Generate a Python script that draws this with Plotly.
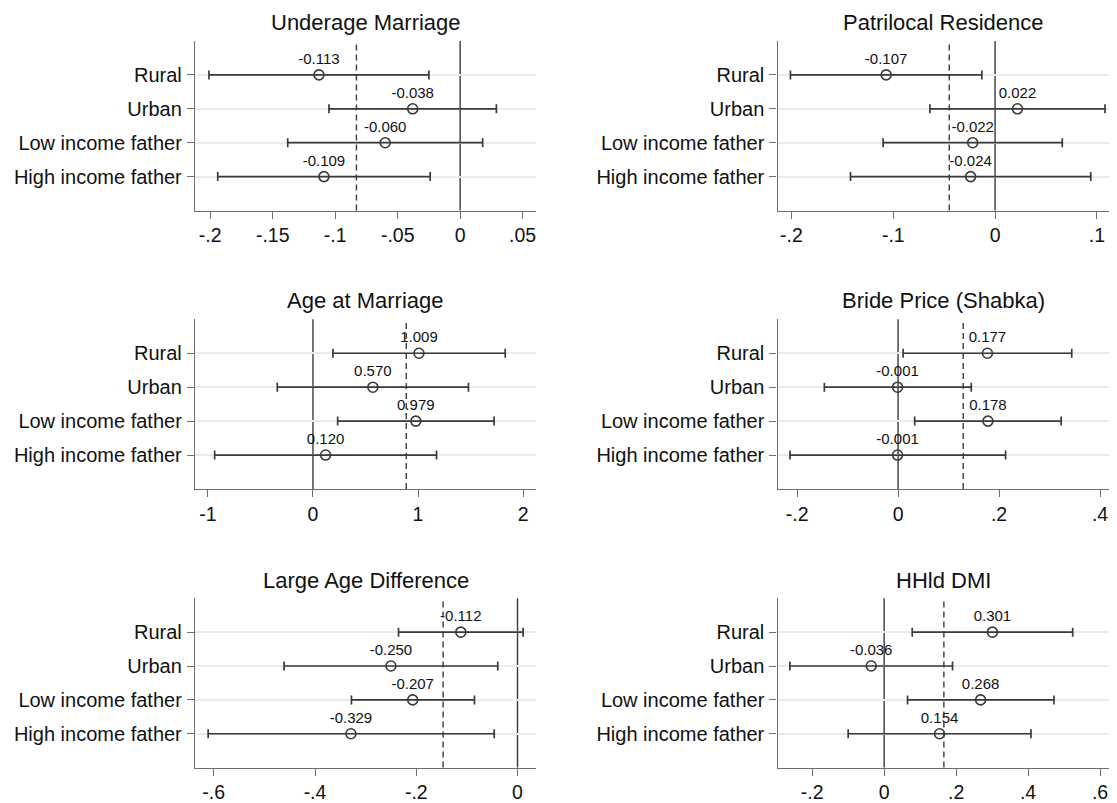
import plotly.graph_objects as go

# ---------------- data ----------------
groups = ["Rural", "Urban", "Low income father", "High income father"]

titles = ["Underage Marriage", "Patrilocal Residence", "Age at Marriage",
          "Bride Price (Shabka)", "Large Age Difference", "HHld DMI"]

underage_est = [-0.113, -0.038, -0.060, -0.109]
underage_lo = [-0.201, -0.105, -0.138, -0.194]
underage_hi = [-0.025, 0.029, 0.018, -0.024]
underage_ref = -0.083

patrilocal_est = [-0.107, 0.022, -0.022, -0.024]
patrilocal_lo = [-0.201, -0.064, -0.110, -0.142]
patrilocal_hi = [-0.013, 0.108, 0.066, 0.094]
patrilocal_ref = -0.045

agemar_est = [1.009, 0.570, 0.979, 0.120]
agemar_lo = [0.190, -0.340, 0.235, -0.936]
agemar_hi = [1.830, 1.480, 1.724, 1.176]
agemar_ref = 0.888

bride_est = [0.177, -0.001, 0.178, -0.001]
bride_lo = [0.010, -0.146, 0.033, -0.214]
bride_hi = [0.344, 0.145, 0.323, 0.213]
bride_ref = 0.129

agediff_est = [-0.112, -0.250, -0.207, -0.329]
agediff_lo = [-0.235, -0.461, -0.328, -0.611]
agediff_hi = [0.011, -0.039, -0.085, -0.046]
agediff_ref = -0.147

dmi_est = [0.301, -0.036, 0.268, 0.154]
dmi_lo = [0.078, -0.262, 0.065, -0.100]
dmi_hi = [0.524, 0.190, 0.472, 0.408]
dmi_ref = 0.166

xticks_1 = [-0.2, -0.15, -0.1, -0.05, 0, 0.05]
xticklabels_1 = ["-.2", "-.15", "-.1", "-.05", "0", ".05"]
xticks_2 = [-0.2, -0.1, 0, 0.1]
xticklabels_2 = ["-.2", "-.1", "0", ".1"]
xticks_3 = [-1, 0, 1, 2]
xticklabels_3 = ["-1", "0", "1", "2"]
xticks_4 = [-0.2, 0, 0.2, 0.4]
xticklabels_4 = ["-.2", "0", ".2", ".4"]
xticks_5 = [-0.6, -0.4, -0.2, 0]
xticklabels_5 = ["-.6", "-.4", "-.2", "0"]
xticks_6 = [-0.2, 0, 0.2, 0.4, 0.6]
xticklabels_6 = ["-.2", "0", ".2", ".4", ".6"]

xranges = [[-0.2122, 0.0607], [-0.2137, 0.1119], [-1.123, 2.123],
           [-0.2388, 0.4178], [-0.637, 0.0365], [-0.2964, 0.6249]]

panels = [
    (underage_est, underage_lo, underage_hi, underage_ref, xticks_1, xticklabels_1),
    (patrilocal_est, patrilocal_lo, patrilocal_hi, patrilocal_ref, xticks_2, xticklabels_2),
    (agemar_est, agemar_lo, agemar_hi, agemar_ref, xticks_3, xticklabels_3),
    (bride_est, bride_lo, bride_hi, bride_ref, xticks_4, xticklabels_4),
    (agediff_est, agediff_lo, agediff_hi, agediff_ref, xticks_5, xticklabels_5),
    (dmi_est, dmi_lo, dmi_hi, dmi_ref, xticks_6, xticklabels_6),
]

# ---------------- layout geometry ----------------
# the page body has an 8px margin, so the figure starts at (8, 8) in the window
OFF = 8
VW, VH = 1117, 803
W, H = VW - OFF, VH - OFF


def fx(px):
    return (px - OFF) / W


def fy(py):
    return 1 - (py - OFF) / H


col_dom = [[fx(195), fx(536)], [fx(777.5), fx(1109)]]
row_px = [(41, 210.5), (319.3, 489), (598.3, 767.6)]
title_px = [23, 301, 580.5]
row_dom = [[fy(b), fy(t)] for t, b in row_px]

FONT = "Liberation Sans, Arial, sans-serif"
DARK = "#3a3a3a"
AXIS = "#6e6e6e"

fig = go.Figure()
shapes = []
annotations = []
layout_axes = {}

for i, (est, lo, hi, ref, tv, tt) in enumerate(panels):
    r, c = divmod(i, 2)
    n = i + 1
    xa = "x" if n == 1 else f"x{n}"
    ya = "y" if n == 1 else f"y{n}"
    xkey = "xaxis" if n == 1 else f"xaxis{n}"
    ykey = "yaxis" if n == 1 else f"yaxis{n}"

    plus = [h - e for h, e in zip(hi, est)]
    minus = [e - l for e, l in zip(est, lo)]
    fig.add_trace(go.Scatter(
        x=est, y=groups, xaxis=xa, yaxis=ya,
        mode="markers+text",
        text=[f"{v:.3f}" for v in est],
        textposition="top center",
        textfont=dict(family=FONT, size=15, color="#111111"),
        marker=dict(symbol="circle-open", size=10, color=DARK,
                    line=dict(width=1.6, color=DARK)),
        error_x=dict(type="data", symmetric=False, array=plus, arrayminus=minus,
                     color=DARK, thickness=1.7, width=4.5),
        showlegend=False, cliponaxis=False,
    ))

    layout_axes[xkey] = dict(
        domain=col_dom[c], anchor=ya, range=xranges[i],
        tickmode="array", tickvals=tv, ticktext=tt,
        showgrid=False, zeroline=False,
        showline=True, linecolor=AXIS, linewidth=1.4,
        ticks="outside", ticklen=7, tickwidth=1.4, tickcolor=AXIS,
        tickfont=dict(family=FONT, size=19.5, color="#111111"),
        ticklabelstandoff=0, ticklabeloverflow="allow",
    )
    layout_axes[ykey] = dict(
        domain=row_dom[r], anchor=xa, range=[4, -1],
        type="category", categoryorder="array", categoryarray=groups,
        showgrid=True, gridcolor="#eaeaea", gridwidth=1.5,
        zeroline=False,
        showline=True, linecolor=AXIS, linewidth=1.4,
        ticks="outside", ticklen=7, tickwidth=1.4, tickcolor=AXIS,
        tickfont=dict(family=FONT, size=20, color="#111111"),
        ticklabelstandoff=1,
    )

    # zero line and reference (dashed) line
    shapes.append(dict(type="line", xref=xa, yref=f"{ya} domain",
                       x0=0, x1=0, y0=0, y1=1,
                       line=dict(color=DARK, width=1.4), layer="below"))
    shapes.append(dict(type="line", xref=xa, yref=f"{ya} domain",
                       x0=ref, x1=ref, y0=0, y1=1,
                       line=dict(color=DARK, width=1.4, dash="6px,4px"), layer="above"))

    annotations.append(dict(
        text=titles[i], xref="paper", yref="paper",
        x=(col_dom[c][0] + col_dom[c][1]) / 2, y=fy(title_px[r]),
        xanchor="center", yanchor="middle", showarrow=False,
        font=dict(family=FONT, size=22, color="#111111"),
    ))

fig.update_layout(
    width=W, height=H, autosize=False,
    margin=dict(l=0, r=0, t=0, b=0),
    paper_bgcolor="white", plot_bgcolor="white",
    shapes=shapes, annotations=annotations,
    **layout_axes,
)

fig.write_html("out.html")
